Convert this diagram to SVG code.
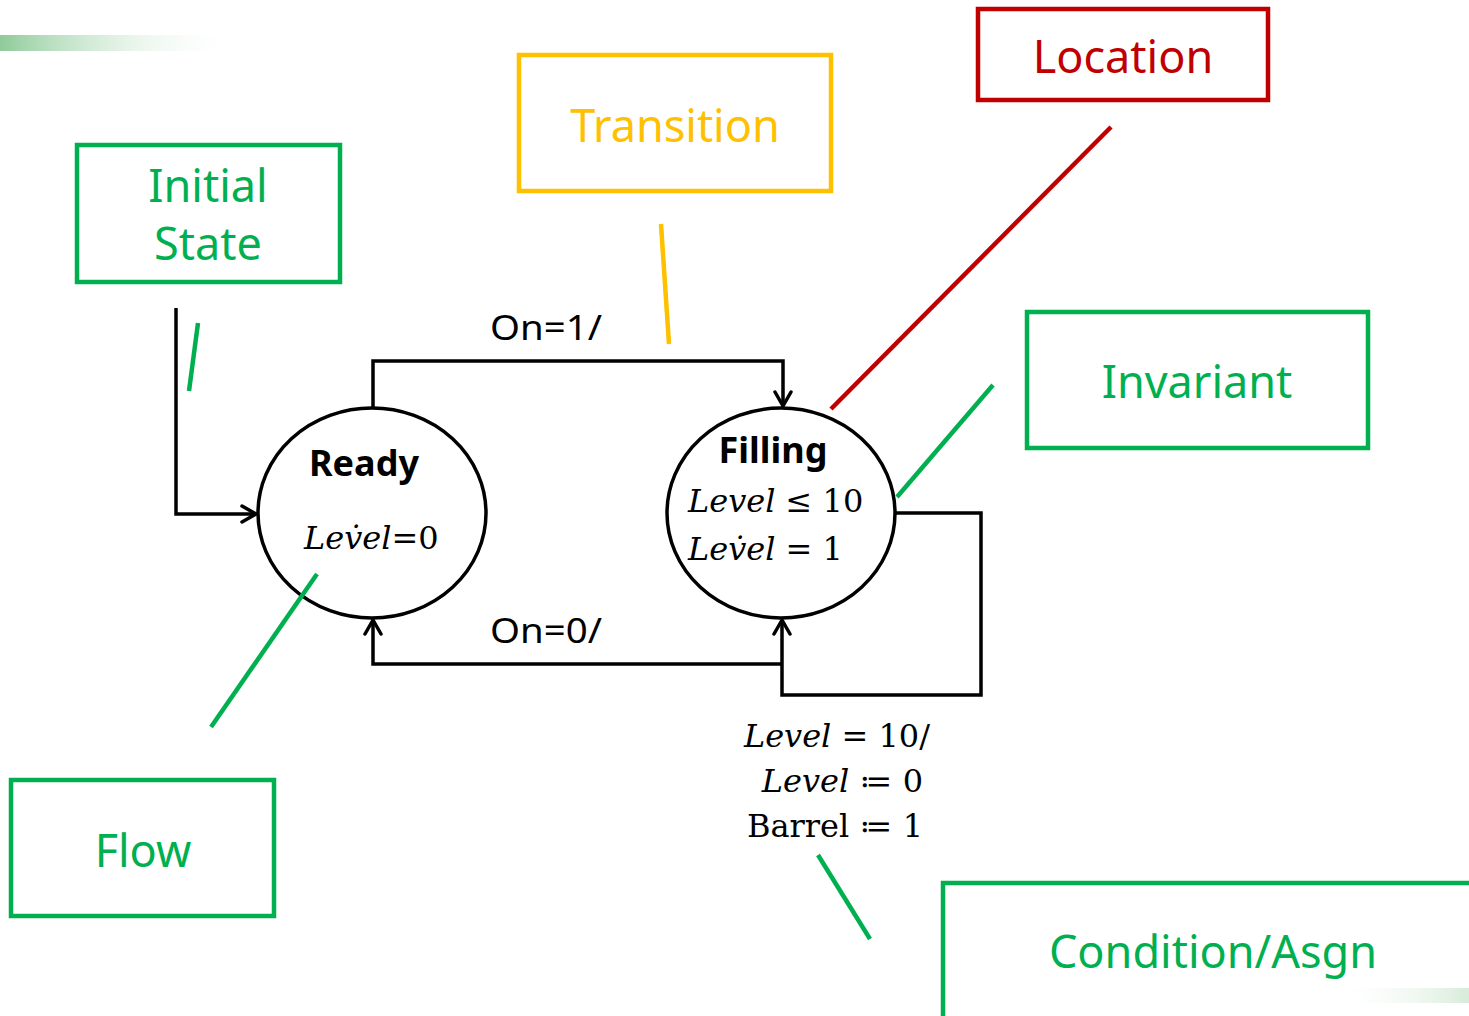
<svg xmlns="http://www.w3.org/2000/svg" width="1469" height="1016" viewBox="0 0 1469 1016">
<defs>
<linearGradient id="gl" x1="0" x2="1" y1="0" y2="0">
<stop offset="0" stop-color="#8fcb9a"/>
<stop offset="1" stop-color="#ffffff" stop-opacity="0"/>
</linearGradient>
<linearGradient id="gr" x1="0" x2="1" y1="0" y2="0">
<stop offset="0" stop-color="#ffffff" stop-opacity="0"/>
<stop offset="1" stop-color="#d7ecda"/>
</linearGradient>
<marker id="arr" viewBox="0 0 20 20" refX="18" refY="10" markerWidth="20" markerHeight="20" markerUnits="userSpaceOnUse" orient="auto">
<path d="M4,2 L18,10 L4,18" fill="none" stroke="#000" stroke-width="3.5" stroke-linecap="round" stroke-linejoin="round"/>
</marker>
</defs>
<style>
.box{fill:none;stroke-width:4.5}
.g{stroke:#00b050}
.y{stroke:#ffc000}
.r{stroke:#c00000}
.lbl{font-family:"Noto Sans","Open Sans",sans-serif;font-size:45px;text-anchor:middle}
.gt{fill:#00b050}
.yt{fill:#ffc000}
.rt{fill:#c00000}
.st{fill:#fff;stroke:#000;stroke-width:3.5}
.name{font-family:"Noto Sans","Open Sans",sans-serif;font-weight:bold;font-size:36px;text-anchor:middle;fill:#000}
.math{font-family:"DejaVu Serif","Liberation Serif",serif;font-size:32px;fill:#000}
.it{font-style:italic}
.tr{font-family:"Noto Sans","Open Sans",sans-serif;font-size:34px;fill:#000}
.c{fill:none;stroke:#000;stroke-width:3.5}
.p{fill:none;stroke-width:4.5}
</style>
<rect x="0" y="35" width="240" height="16" fill="url(#gl)"/>
<rect x="1330" y="988" width="139" height="15" fill="url(#gr)"/>

<g id="connectors">
<path class="c" d="M176,308 V514 H256" marker-end="url(#arr)"/>
<path class="c" d="M373,408 V361 H783 V406" marker-end="url(#arr)"/>
<path class="c" d="M782,664 H373 V620" marker-end="url(#arr)"/>
<path class="c" d="M895,513 H981 V695 H782 V620" marker-end="url(#arr)"/>
<text class="tr" x="490" y="340" textLength="112" lengthAdjust="spacingAndGlyphs">On=1/</text>
<text class="tr" x="490" y="643" textLength="112" lengthAdjust="spacingAndGlyphs">On=0/</text>
<text class="math" x="930" y="747" text-anchor="end"><tspan class="it">Level</tspan> = 10/</text>
<text class="math" x="923" y="792" text-anchor="end"><tspan class="it">Level</tspan> ≔ 0</text>
<text class="math" x="923" y="837" text-anchor="end">Barrel ≔ 1</text>
</g>

<g id="ready">
<ellipse class="st" cx="372" cy="513" rx="114" ry="105"/>
<text class="name" x="364" y="476">Ready</text>
<text class="math it" x="304" y="549">Lev̇el<tspan font-style="normal">=0</tspan></text>
</g>

<g id="filling">
<ellipse class="st" cx="781" cy="513" rx="114" ry="105"/>
<text class="name" x="773" y="463">Filling</text>
<text class="math" x="688" y="512"><tspan class="it">Level</tspan> ≤ 10</text>
<text class="math" x="688" y="560"><tspan class="it">Lev̇el</tspan> = 1</text>
</g>

<g id="pointers">
<line class="p g" x1="198" y1="323" x2="189" y2="391"/>
<line class="p y" x1="661" y1="224" x2="669" y2="344"/>
<line class="p r" x1="1111" y1="127" x2="831" y2="409"/>
<line class="p g" x1="993" y1="385" x2="897" y2="497"/>
<line class="p g" x1="317" y1="574" x2="211" y2="727"/>
<line class="p g" x1="818" y1="855" x2="870" y2="939"/>
</g>

<g id="initial-state">
<rect class="box g" x="77" y="145" width="263" height="137"/>
<text class="lbl gt" x="208" y="202">Initial</text>
<text class="lbl gt" x="208" y="260">State</text>
</g>
<g id="transition">
<rect class="box y" x="519" y="55" width="312" height="136"/>
<text class="lbl yt" x="675" y="142">Transition</text>
</g>
<g id="location">
<rect class="box r" x="978" y="9" width="290" height="91"/>
<text class="lbl rt" x="1123" y="73">Location</text>
</g>
<g id="invariant">
<rect class="box g" x="1027" y="312" width="341" height="136"/>
<text class="lbl gt" x="1197" y="398">Invariant</text>
</g>
<g id="flow">
<rect class="box g" x="11" y="780" width="263" height="136"/>
<text class="lbl gt" x="143" y="867">Flow</text>
</g>
<g id="condition">
<path class="box g" d="M943,1020 V883 H1475"/>
<text class="lbl gt" x="1213" y="968">Condition/Asgn</text>
</g>
</svg>
